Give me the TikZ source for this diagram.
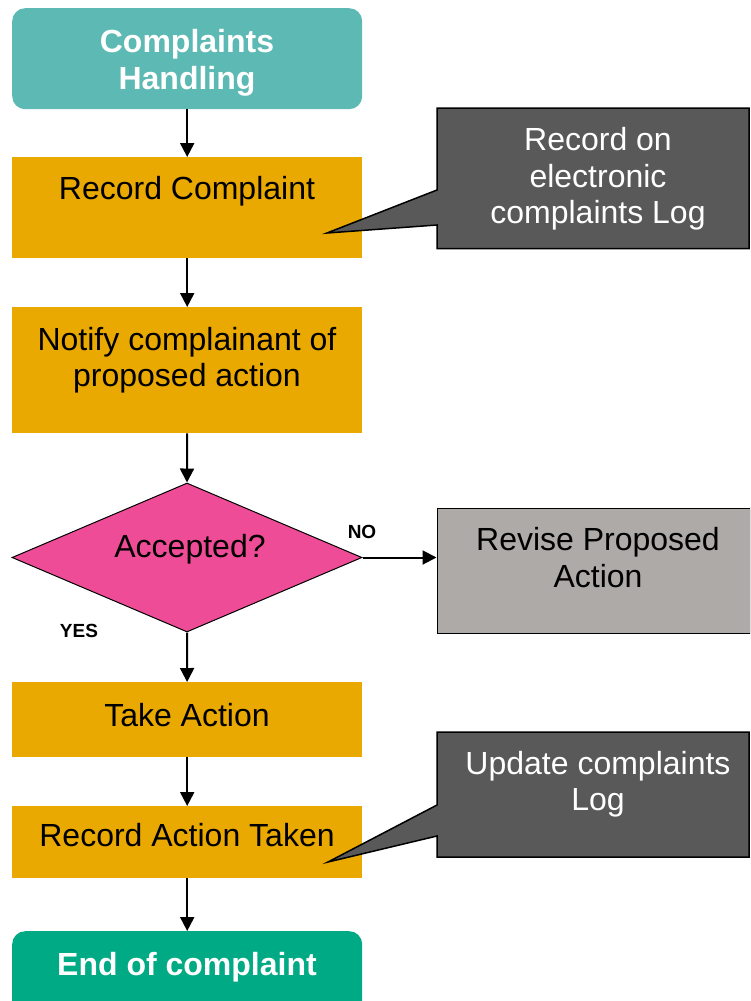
\documentclass[tikz,border=0pt]{standalone}
\usepackage{fontspec}
\setmainfont{Liberation Sans}
\usetikzlibrary{shapes.geometric,arrows.meta}

\definecolor{startteal}{HTML}{5DB9B3}
\definecolor{endgreen}{HTML}{00AA84}
\definecolor{stepgold}{HTML}{EAA900}
\definecolor{decisionpink}{HTML}{EF4C97}
\definecolor{revisegrey}{HTML}{ADAAA8}
\definecolor{notegrey}{HTML}{595959}

\newcommand\flowfont{\fontsize{32}{36.5}\selectfont}
\newcommand\tagfont{\fontsize{19}{22}\selectfont\bfseries}

\begin{document}
\begin{tikzpicture}[x=1pt,y=-1pt,
  terminal/.style={rectangle, rounded corners=13pt, minimum width=350pt,
                   anchor=north west, inner sep=0pt},
  stepbox/.style={rectangle, fill=stepgold, minimum width=350pt,
                  anchor=north west, inner sep=0pt},
  label/.style={align=center, inner sep=0pt, font=\flowfont},
  whitebold/.style={label, text=white, font=\flowfont\bfseries},
  notetext/.style={label, text=white},
  notebox/.style={fill=notegrey, draw=black, line width=1.5pt, line join=miter},
  conn/.style={-{Triangle[length=14pt,width=14pt]}, line width=2pt},
  tag/.style={inner sep=0pt, font=\tagfont}]

\useasboundingbox (0,0) rectangle (750,1001);
\clip (0,0) rectangle (750,1001);

% main column of steps
\node[terminal, fill=startteal, minimum height=101pt] (start) at (12,8) {};
\node[whitebold] (starttxt) at (187,63) {Complaints\\Handling};

\node[stepbox, minimum height=101pt] (record) at (12,157) {};
\node[label] (recordtxt) at (187,191) {Record Complaint};

\node[stepbox, minimum height=126pt] (notify) at (12,307) {};
\node[label] (notifytxt) at (187,360) {Notify complainant of\\proposed action};

\node[diamond, fill=decisionpink, draw=black, line width=1pt,
      minimum width=350pt, minimum height=149pt, aspect=2.35,
      inner sep=0pt] (accept) at (187,557.5) {};
\node[label] (accepttxt) at (190,549) {Accepted?};

\node[stepbox, minimum height=75pt] (take) at (12,682) {};
\node[label] (taketxt) at (187,715) {Take Action};

\node[stepbox, minimum height=72pt] (logged) at (12,806) {};
\node[label] (loggedtxt) at (187,835) {Record Action Taken};

\node[terminal, fill=endgreen, minimum height=85pt] (finish) at (12,931) {};
\node[whitebold] (finishtxt) at (187,967) {End of complaint};

% side branch for a rejected proposal
\node[rectangle, fill=revisegrey, draw=black, line width=1.5pt,
      minimum width=313pt, minimum height=125pt, anchor=north west,
      inner sep=0pt] (revise) at (436.5,507.5) {};
\node[label] (revisetxt) at (598,557.5) {Revise Proposed\\Action};

% connectors
\draw[conn] (start) -- (record);
\draw[conn] (record) -- (notify);
\draw[conn] (notify) -- (accept.north);
\draw[conn] (accept.south) -- (take);
\draw[conn] (take) -- (logged);
\draw[conn] (logged) -- (finish);
\draw[conn] (accept.east) -- (accept.east -| revise.west);

\node[tag] (notag) at (362,531.5) {NO};
\node[tag] (yestag) at (79,631) {YES};

% callout notes
\coordinate (tipone) at (327,233);
\draw[notebox] (437,108) -- (749.2,108) -- (749.2,248.5) -- (437,248.5)
  -- (437,225) -- (tipone) -- (437,190) -- cycle;
\node[notetext] (noteone) at (598,179) {Record on\\electronic\\complaints Log};

\coordinate (tiptwo) at (328,862);
\draw[notebox] (437,732) -- (749.2,732) -- (749.2,857) -- (437,857)
  -- (437,836) -- (tiptwo) -- (437,805) -- cycle;
\node[notetext] (notetwo) at (598,784) {Update complaints\\Log};

\end{tikzpicture}
\end{document}
